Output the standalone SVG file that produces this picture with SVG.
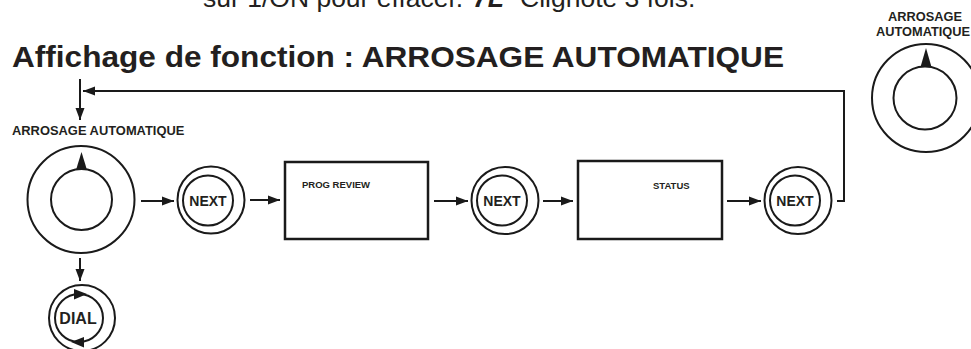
<svg xmlns="http://www.w3.org/2000/svg" width="971" height="349" viewBox="0 0 971 349">
<style>
.ln{fill:none;stroke:#1a1a1a;stroke-width:2}
.ring{fill:none;stroke:#1a1a1a;stroke-width:2}
.box{fill:#fff;stroke:#1a1a1a;stroke-width:2.5}
.tri{fill:#1a1a1a}
.b{font-family:"Liberation Sans",Arial,sans-serif;font-weight:bold;fill:#231f20}
.r{font-family:"Liberation Sans",Arial,sans-serif;fill:#231f20}
</style>
<defs>
<marker id="ah" markerUnits="userSpaceOnUse" markerWidth="13" markerHeight="10" refX="12" refY="5" orient="auto">
<path d="M0,0.5 L12,5 L0,9.5 z" fill="#1a1a1a"/>
</marker>
</defs>
<rect width="971" height="349" fill="#fff"/>
<g id="header">
<text class="r" y="7" font-size="26.5"><tspan x="203">sur 1/ON pour effacer.</tspan><tspan x="473" font-weight="bold" font-style="italic">7L</tspan><tspan x="520">Clignote 3 fois.</tspan></text>
<text class="b" x="12" y="67" font-size="30" textLength="772" lengthAdjust="spacingAndGlyphs">Affichage de fonction : ARROSAGE AUTOMATIQUE</text>
</g>
<g id="connectors">
<path class="ln" d="M837,201 H844 V91 H83" marker-end="url(#ah)"/>
<path class="ln" d="M80,79 V120" marker-end="url(#ah)"/>
<path class="ln" d="M141,201 H174" marker-end="url(#ah)"/>
<path class="ln" d="M250,200 H280" marker-end="url(#ah)"/>
<path class="ln" d="M434,201 H468" marker-end="url(#ah)"/>
<path class="ln" d="M543,201 H573" marker-end="url(#ah)"/>
<path class="ln" d="M727,201 H761" marker-end="url(#ah)"/>
<path class="ln" d="M80,258 V281" marker-end="url(#ah)"/>
</g>
<g id="dial-main">
<text class="b" x="12" y="135" font-size="12.9">ARROSAGE AUTOMATIQUE</text>
<circle class="ring" cx="81" cy="199.5" r="53.5"/>
<circle class="ring" cx="81.5" cy="199.5" r="30.5"/>
<polygon class="tri" points="81.5,152 76,170 87,170"/>
</g>
<g id="next1">
<circle class="ring" cx="211" cy="200" r="33.5"/>
<circle class="ring" cx="208" cy="200.5" r="25"/>
<text class="b" x="208" y="206" font-size="14" text-anchor="middle">NEXT</text>
</g>
<g id="prog-review">
<rect class="box" x="285" y="162" width="143" height="77"/>
<text class="b" x="302" y="188" font-size="9.5">PROG REVIEW</text>
</g>
<g id="next2">
<circle class="ring" cx="505" cy="200.5" r="33.5"/>
<circle class="ring" cx="502" cy="200.5" r="25"/>
<text class="b" x="502" y="206" font-size="14" text-anchor="middle">NEXT</text>
</g>
<g id="status">
<rect class="box" x="578" y="161" width="144" height="78"/>
<text class="b" x="653" y="189" font-size="9.5">STATUS</text>
</g>
<g id="next3">
<circle class="ring" cx="798" cy="200.5" r="33.5"/>
<circle class="ring" cx="795" cy="200.5" r="25"/>
<text class="b" x="795" y="206" font-size="14" text-anchor="middle">NEXT</text>
</g>
<g id="dial">
<circle class="ring" cx="82" cy="318" r="33"/>
<circle class="ring" cx="79" cy="318" r="24"/>
<polygon class="tri" points="87,294 74,289 74,299.5"/>
<polygon class="tri" points="71,342 84,337 84,347.5"/>
<text class="b" x="78" y="324" font-size="16" text-anchor="middle">DIAL</text>
</g>
<g id="dial-right">
<text class="b" x="925" y="20.5" font-size="12.8" text-anchor="middle">ARROSAGE</text>
<text class="b" x="923" y="36" font-size="12.8" text-anchor="middle">AUTOMATIQUE</text>
<circle class="ring" cx="926" cy="98" r="54"/>
<circle class="ring" cx="925" cy="98" r="31.5"/>
<polygon class="tri" points="926,48 920.5,67 931.5,67"/>
</g>
</svg>
